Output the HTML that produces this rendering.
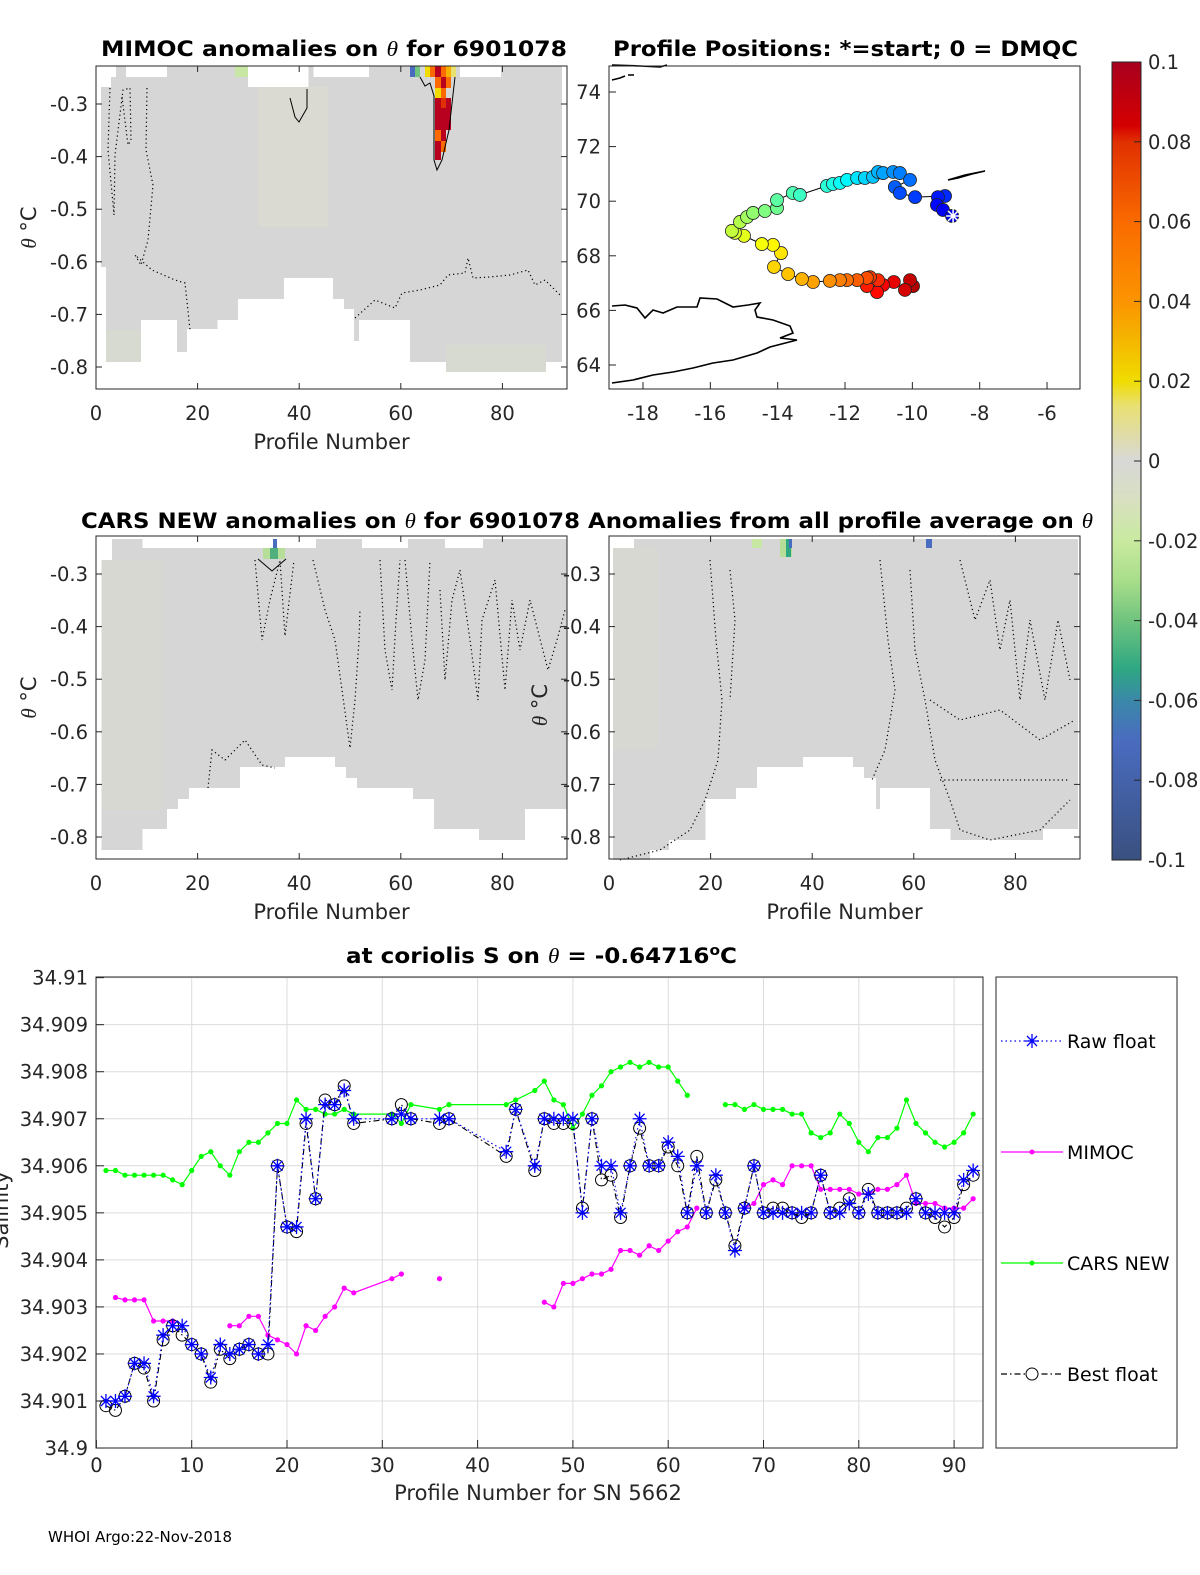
<!DOCTYPE html>
<html><head><meta charset="utf-8"><style>
html,body{margin:0;padding:0;background:#fff;width:1200px;height:1575px;overflow:hidden}
svg{display:block;font-family:"DejaVu Sans","Liberation Sans",sans-serif}
.tk{font-size:19.5px;fill:#262626}
.ttl{font-size:21px;font-weight:bold;fill:#000}
.lbl{font-size:21px;fill:#262626}
</style></head><body>
<svg id="fig" width="1200" height="1575" viewBox="0 0 1200 1575" xmlns="http://www.w3.org/2000/svg">
<defs>
<linearGradient id="cbg" x1="0" y1="0" x2="0" y2="1">
<stop offset="0" stop-color="#a8001f"/><stop offset="0.08" stop-color="#d40000"/><stop offset="0.1" stop-color="#e03000"/>
<stop offset="0.2" stop-color="#fa6a00"/><stop offset="0.3" stop-color="#fb9400"/><stop offset="0.34" stop-color="#f5b000"/>
<stop offset="0.4" stop-color="#f0dc00"/><stop offset="0.43" stop-color="#e8e070"/><stop offset="0.5" stop-color="#d8d8d8"/>
<stop offset="0.55" stop-color="#d8e0c0"/><stop offset="0.6" stop-color="#c9eaa0"/><stop offset="0.65" stop-color="#a8de8a"/>
<stop offset="0.7" stop-color="#70c47e"/><stop offset="0.76" stop-color="#2fa882"/><stop offset="0.8" stop-color="#3a88a8"/>
<stop offset="0.85" stop-color="#4a6cc0"/><stop offset="1" stop-color="#3a5080"/>
</linearGradient>
</defs>

<!-- Panel 1: MIMOC anomalies -->
<g>
<text class="ttl" x="101" y="56" textLength="466" lengthAdjust="spacingAndGlyphs">MIMOC anomalies on <tspan font-style="italic" font-weight="normal" font-family="Liberation Serif">θ</tspan>  for 6901078</text>
<path fill="#d6d6d6" d="M101,87 L111,87 L111,77 L116,77 L116,66 L126,66 L126,77 L167,77 L167,66 L248,66 L248,87 L308.5,87 L308.5,66 L313.5,66 L313.5,77 L369,77 L369,66 L460,66 L460,77 L501,77 L501,66 L562,66 L562,362 L520.5,362 L520.5,372 L446,372 L446,362 L410,362 L410,320 L359,320 L359,341 L354,341 L354,309 L344,309 L344,299 L333,299 L333,278 L284,278 L284,299 L238,299 L238,320 L217.5,320 L217.5,329 L187,329 L187,352 L177,352 L177,320 L141,320 L141,362 L106,362 L106,267 L101,267 Z"/>
<rect x="258" y="87" width="70" height="140" fill="#dadad2"/>
<rect x="106" y="330" width="35" height="32" fill="#d6dad0"/>
<rect x="446" y="345" width="100" height="27" fill="#d6dad0"/>
<rect x="235" y="66" width="13" height="11" fill="#c8e6a4"/>
<g>
<rect x="410" y="66" width="5" height="11" fill="#4a6cc0"/><rect x="415" y="66" width="5" height="11" fill="#70c47e"/>
<rect x="425" y="66" width="5" height="11" fill="#f0dc00"/><rect x="430" y="66" width="5" height="11" fill="#fa6a00"/>
<rect x="435" y="66" width="6" height="11" fill="#b8001f"/><rect x="441" y="66" width="5" height="11" fill="#fa6a00"/>
<rect x="446" y="66" width="5" height="11" fill="#f5b000"/><rect x="451" y="66" width="5" height="11" fill="#e8e070"/>
<rect x="435" y="77" width="6" height="11" fill="#fa6a00"/><rect x="441" y="77" width="5" height="11" fill="#b8001f"/><rect x="446" y="77" width="5" height="11" fill="#fa6a00"/>
<rect x="435" y="88" width="6" height="10" fill="#f0dc00"/><rect x="441" y="88" width="5" height="10" fill="#fa6a00"/>
<rect x="435" y="98" width="16" height="32" fill="#b8001f"/><rect x="441" y="98" width="5" height="10" fill="#e03000"/>
<rect x="435" y="130" width="6" height="11" fill="#fa6a00"/><rect x="441" y="130" width="5" height="11" fill="#b8001f"/>
<rect x="435" y="141" width="6" height="19" fill="#b8001f"/><rect x="441" y="141" width="5" height="11" fill="#fa6a00"/>
</g>
<path d="M420,77 L425,86 L430,83 L434,96 L434,160 L437,170 L442,160 L449,130 L455,77" fill="none" stroke="#000" stroke-width="1"/>
<path d="M290,98 L295,117 L299,122 L307,108 L307,89" fill="none" stroke="#000" stroke-width="1"/>
<g fill="none" stroke="#000" stroke-width="1.2" stroke-dasharray="1.2,3">
<path d="M110,88 L108,150 L114,215 L115,155 L123,90 L130,88 L131,140 L128,145 L122,97"/>
<path d="M147,88 L146,150 L153,185 L148,240 L141,265 L135,255 L152,270 L175,280 L185,283 L190,330"/>
<path d="M355,318 L375,300 L395,308 L402,293 L420,290 L440,285 L448,275 L465,273 L468,258 L473,278 L490,277 L510,275 L528,270 L535,285 L545,280 L560,295"/>
</g>
<rect x="96" y="66" width="471" height="323" fill="none" stroke="#262626" stroke-width="1"/>
</g>

<!-- Panel 2: map -->
<g>
<text class="ttl" x="613" y="56" textLength="465" lengthAdjust="spacingAndGlyphs">Profile Positions: *=start; 0 = DMQC</text>
<g id="mapCoast" fill="none" stroke="#000" stroke-width="1.6">
<path d="M612,306 L625,305 L637,308 L645,318 L653,310 L663,313 L677,307 L697,307 L700,298 L717,299 L733,307 L748,305 L760,303 L755,310 L757,317 L773,320 L790,326 L793,333 L780,338 L797,340 L770,347 L757,353 L733,360 L713,363 L693,368 L673,372 L653,375 L633,380 L612,383"/>
<path d="M612,65 L640,66 L660,67 L667,65 M612,80 L620,78 L625,76 M628,75 L634,75"/>
<path d="M948,180 L965,175 L985,171 L972,174 L958,178 Z"/>
</g>
<g id="mapTrack"></g>
<g id="mapAxes"></g>
<rect x="609" y="66" width="471" height="323" fill="none" stroke="#262626" stroke-width="1"/>
</g>

<!-- Panel 3 -->
<g>
<text class="ttl" x="81" y="528" textLength="499" lengthAdjust="spacingAndGlyphs">CARS NEW anomalies on <tspan font-style="italic" font-weight="normal" font-family="Liberation Serif">θ</tspan> for 6901078</text>
<path fill="#d6d6d6" d="M101.5,560 L112,560 L112,539 L142.5,539 L142.5,548 L316,548 L316,539 L362,539 L362,548 L408,548 L408,539 L445,539 L445,548 L483,548 L483,539 L567,539 L567,809 L525,809 L525,840 L479,840 L479,829 L434,829 L434,799 L413,799 L413,788 L357,788 L357,778 L346,778 L346,767 L335,767 L335,757 L285,757 L285,767 L240,767 L240,788 L189,788 L189,799 L178,799 L178,809 L167,809 L167,829 L142.5,829 L142.5,850 L101.5,850 Z"/>
<rect x="101.5" y="560" width="60" height="250" fill="#d6dcc8" opacity="0.35"/>
<rect x="263" y="548" width="22" height="11" fill="#b6de98"/><rect x="270" y="548" width="8" height="11" fill="#4fb07e"/>
<rect x="273" y="539" width="4" height="9" fill="#4a6cc0"/>
<path d="M258,559 L272,571 L286,559" fill="none" stroke="#000"/>
<g fill="none" stroke="#000" stroke-width="1.2" stroke-dasharray="1.2,3">
<path d="M255,560 L262,640 L270,600 L280,560 L285,636 L294,560"/>
<path d="M313,560 L325,610 L335,640 L342,690 L350,748 L355,700 L359,640 L360,610"/>
<path d="M380,560 L385,650 L392,690 L396,620 L400,560 M405,560 L412,640 L418,700 L425,660 L430,560"/>
<path d="M440,590 L445,680 L452,600 L460,570 L470,640 L478,700 L482,620 L495,580 L505,690 L512,600 L520,650 L530,600 L548,670 L557,640 L565,610"/>
<path d="M208,788 L212,750 L225,760 L245,740 L262,765 L275,768"/>
</g>
<text transform="translate(547,705) rotate(-90)" font-size="21" fill="#262626" text-anchor="middle"><tspan font-style="italic" font-family="Liberation Serif">θ</tspan> °C</text>
<rect x="96" y="536" width="471" height="323" fill="none" stroke="#262626" stroke-width="1"/>
</g>

<!-- Panel 4 -->
<g>
<text class="ttl" x="588" y="528" textLength="505" lengthAdjust="spacingAndGlyphs">Anomalies from all profile average on <tspan font-style="italic" font-weight="normal" font-family="Liberation Serif">θ</tspan></text>
<path fill="#d6d6d6" d="M613,548 L634,548 L634,539 L1078,539 L1078,829 L1043,829 L1043,840 L950.5,840 L950.5,829 L930,829 L930,788 L880,788 L880,809 L876,809 L876,778 L864,778 L864,767 L853,767 L853,757 L803,757 L803,767 L757,767 L757,788 L736,788 L736,799 L705.5,799 L705.5,840 L669,840 L669,850 L650,850 L650,860 L613,860 Z"/>
<rect x="613" y="548" width="45" height="200" fill="#d6dcc8" opacity="0.35"/>
<rect x="752" y="539" width="10" height="9" fill="#c8e6a4"/><rect x="780" y="539" width="12" height="18" fill="#b6de98"/>
<rect x="786" y="539" width="5" height="18" fill="#2fa882"/><rect x="789" y="539" width="3" height="9" fill="#4a6cc0"/>
<rect x="926" y="539" width="6" height="9" fill="#4a6cc0"/>
<g fill="none" stroke="#000" stroke-width="1.2" stroke-dasharray="1.2,3">
<path d="M710,560 L716,640 L722,700 L718,760 L705,800 L690,830 L660,850 L620,860"/>
<path d="M730,570 L735,620 L730,700"/>
<path d="M880,560 L888,640 L895,690 L885,750 L872,780"/>
<path d="M910,570 L915,650 L925,700 L935,760 L950,800 L960,830 L990,840 L1040,830 L1070,800"/>
<path d="M960,560 L975,620 L990,580 L1000,650 L1010,600 L1020,700 L1030,620 L1045,700 L1058,620 L1070,680"/>
<path d="M930,700 L960,720 L1000,710 L1040,740 L1075,720 M940,780 L1070,780"/>
</g>
<rect x="609" y="536" width="471" height="323" fill="none" stroke="#262626" stroke-width="1"/>
</g>

<g id="heatAxes"></g>

<!-- Colorbar -->
<g>
<rect x="1112" y="62" width="29" height="798" fill="url(#cbg)" stroke="#262626" stroke-width="1"/>
<g id="cbTicks"></g>
</g>

<!-- Bottom chart -->
<g>
<text class="ttl" x="346" y="963" textLength="391" lengthAdjust="spacingAndGlyphs">at coriolis S on <tspan font-style="italic" font-weight="normal" font-family="Liberation Serif">θ</tspan> = -0.64716<tspan font-size="14" dy="-8">o</tspan><tspan dy="8">C</tspan></text>
<rect x="96" y="977" width="887" height="471" fill="#fff"/>
<g id="grid"></g>
<g id="series"></g>
<rect x="96" y="977" width="887" height="471" fill="none" stroke="#262626" stroke-width="1"/>
<g id="bAxes"></g>
<text class="lbl" x="538" y="1500" text-anchor="middle">Profile Number for SN 5662</text>
<text class="lbl" transform="translate(8,1210) rotate(-90)" text-anchor="middle">Salinity</text>
</g>

<!-- Legend -->
<g>
<rect x="996" y="977" width="181" height="471" fill="#fff" stroke="#262626" stroke-width="1"/>
<g>
<line x1="1001" y1="1041" x2="1063" y2="1041" stroke="#0000ff" stroke-width="1.2" stroke-dasharray="1.5,3"/>
<path d="M1025,1041 L1039,1041 M1032,1034 L1032,1048 M1027,1036 L1037,1046 M1027,1046 L1037,1036" stroke="#0000ff" stroke-width="1.3"/>
<text x="1067" y="1048" font-size="19" fill="#000">Raw float</text></g>
<g>
<line x1="1001" y1="1152" x2="1063" y2="1152" stroke="#ff00ff" stroke-width="1.2"/><circle cx="1032" cy="1152" r="2.5" fill="#ff00ff"/>
<text x="1067" y="1159" font-size="19" fill="#000">MIMOC</text></g>
<g>
<line x1="1001" y1="1263" x2="1063" y2="1263" stroke="#00ff00" stroke-width="1.2"/><circle cx="1032" cy="1263" r="2.5" fill="#00ff00"/>
<text x="1067" y="1270" font-size="19" fill="#000">CARS NEW</text></g>
<g>
<line x1="1001" y1="1374" x2="1063" y2="1374" stroke="#000" stroke-width="1.2" stroke-dasharray="6,3,1.5,3"/><circle cx="1032" cy="1374" r="6" fill="#fff" stroke="#000"/>
<text x="1067" y="1381" font-size="19" fill="#000">Best float</text></g>
</g>

<text x="48" y="1542" font-size="15" fill="#000">WHOI Argo:22-Nov-2018</text>
</svg>
<script>
// ===== bottom chart data =====
const profiles = [1,2,3,4,5,6,7,8,9,10,11,12,13,14,15,16,17,18,19,20,21,22,23,24,25,26,27,31,32,33,36,37,43,44,46,47,48,49,50,51,52,53,54,55,56,57,58,59,60,61,62,63,64,65,66,67,68,69,70,71,72,73,74,75,76,77,78,79,80,81,82,83,84,85,86,87,88,89,90,91,92];
const rawFloat = [34.9010,34.9010,34.9011,34.9018,34.9018,34.9011,34.9024,34.9026,34.9026,34.9022,34.9020,34.9015,34.9022,34.9020,34.9021,34.9022,34.9020,34.9022,34.9060,34.9047,34.9047,34.9070,34.9053,34.9073,34.9073,34.9076,34.9070,34.9070,34.9071,34.9070,34.9070,34.9070,34.9063,34.9072,34.9060,34.9070,34.9070,34.9070,34.9070,34.9050,34.9070,34.9060,34.9060,34.9050,34.9060,34.9070,34.9060,34.9060,34.9065,34.9062,34.9050,34.9060,34.9050,34.9058,34.9050,34.9042,34.9051,34.9060,34.9050,34.9050,34.9050,34.9050,34.9050,34.9050,34.9058,34.9050,34.9050,34.9052,34.9050,34.9054,34.9050,34.9050,34.9050,34.9050,34.9053,34.9050,34.9050,34.9050,34.9050,34.9057,34.9059];
const bestFloat = [34.9009,34.9008,34.9011,34.9018,34.9017,34.9010,34.9023,34.9026,34.9024,34.9022,34.9020,34.9014,34.9021,34.9019,34.9021,34.9022,34.9020,34.9020,34.9060,34.9047,34.9046,34.9069,34.9053,34.9074,34.9073,34.9077,34.9069,34.9070,34.9073,34.9070,34.9069,34.9070,34.9062,34.9072,34.9059,34.9070,34.9069,34.9069,34.9069,34.9051,34.9070,34.9057,34.9058,34.9049,34.9060,34.9068,34.9060,34.9060,34.9064,34.9060,34.9050,34.9062,34.9050,34.9057,34.9050,34.9043,34.9051,34.9060,34.9050,34.9051,34.9051,34.9050,34.9049,34.9050,34.9058,34.9050,34.9051,34.9053,34.9050,34.9055,34.9050,34.9050,34.9050,34.9051,34.9053,34.9050,34.9049,34.9047,34.9049,34.9056,34.9058];
const carsNew = [34.9059,34.9059,34.9058,34.9058,34.9058,34.9058,34.9058,34.9057,34.9056,34.9059,34.9062,34.9063,34.9060,34.9058,34.9063,34.9065,34.9065,34.9067,34.9069,34.9069,34.9074,34.9072,34.9072,34.9071,34.9071,34.9072,34.9071,34.9071,34.9069,34.9073,34.9072,34.9073,34.9073,34.9074,34.9076,34.9078,34.9074,34.9073,34.9068,34.9071,34.9075,34.9077,34.9080,34.9081,34.9082,34.9081,34.9082,34.9081,34.9081,34.9078,34.9075,null,null,null,34.9073,34.9073,34.9072,34.9073,34.9072,34.9072,34.9072,34.9071,34.9071,34.9067,34.9066,34.9067,34.9071,34.9069,34.9065,34.9063,34.9066,34.9066,34.9068,34.9074,34.9069,34.9067,34.9065,34.9064,34.9065,34.9067,34.9071];
const mimoc = [null,34.9032,34.90315,34.90315,34.90315,34.9027,34.9027,34.9027,null,null,null,null,null,34.9026,34.9026,34.9028,34.9028,34.9024,34.9023,34.9022,34.9020,34.9026,34.9025,34.9028,34.9030,34.9034,34.9033,34.9036,34.9037,null,34.9036,null,null,null,null,34.9031,34.9030,34.9035,34.9035,34.9036,34.9037,34.9037,34.9038,34.9042,34.9042,34.9041,34.9043,34.9042,34.9044,34.9046,34.9047,34.9051,null,null,null,null,34.9051,34.9052,34.9056,34.9057,34.9056,34.9060,34.9060,34.9060,34.9055,34.9055,34.9055,34.9055,34.9054,34.9054,34.9055,34.9055,34.9056,34.9058,34.9052,34.9052,34.9052,34.9051,34.9051,34.9051,34.9053];
const xTicks = [0,10,20,30,40,50,60,70,80,90];
const yTicks = [34.9,34.901,34.902,34.903,34.904,34.905,34.906,34.907,34.908,34.909,34.91];
const yTickLabels = ["34.9","34.901","34.902","34.903","34.904","34.905","34.906","34.907","34.908","34.909","34.91"];

// ===== map data =====
const trackLon = [-8.82,-9.09,-9.27,-9.24,-9.03,-9.92,-10.37,-10.52,-10.07,-10.37,-10.57,-10.87,-11.02,-11.17,-11.41,-11.64,-11.94,-12.15,-12.36,-12.54,-13.34,-13.55,-14.02,-14.02,-14.38,-14.73,-14.91,-15.12,-15.36,-15.27,-15.00,-14.47,-14.14,-13.90,-14.11,-13.69,-13.28,-12.95,-12.45,-12.15,-11.94,-11.64,-11.35,-11.26,-11.02,-11.35,-11.05,-10.87,-10.55,-10.22,-10.07,-9.98];
const trackLat = [69.46,69.68,69.86,70.15,70.19,70.15,70.30,70.52,70.78,71.03,71.07,71.03,71.07,70.89,70.85,70.85,70.78,70.67,70.63,70.56,70.23,70.30,70.04,69.75,69.64,69.57,69.42,69.24,68.91,68.84,68.73,68.43,68.40,68.10,67.59,67.33,67.15,67.04,67.08,67.11,67.11,67.11,67.19,67.22,67.11,66.89,66.67,66.93,67.04,66.75,67.11,66.89];
const lonTicks = [-18,-16,-14,-12,-10,-8,-6];
const latTicks = [64,66,68,70,72,74];

// ===== heatmap panel axes =====
const thetaTicks = [-0.3,-0.4,-0.5,-0.6,-0.7,-0.8];
const profTicks = [0,20,40,60,80];
const cbTicks = [0.1,0.08,0.06,0.04,0.02,0,-0.02,-0.04,-0.06,-0.08,-0.1];

const NS = "http://www.w3.org/2000/svg";
function mk(tag, attrs, parent){const e=document.createElementNS(NS,tag);for(const k in attrs)e.setAttribute(k,attrs[k]);parent.appendChild(e);return e;}

const X = p => 96.4 + p*9.53;
const Y = v => 1401 - (v-34.901)*47040;
const grid = document.getElementById('grid'), bAxes = document.getElementById('bAxes'), ser = document.getElementById('series');
xTicks.forEach(t=>{
  const gl = mk('line',{x1:X(t),x2:X(t),y1:977,y2:1448,stroke:'#dcdcdc','stroke-width':1},grid);
  
  
  mk('line',{x1:X(t),x2:X(t),y1:1448,y2:1440,stroke:'#262626'},bAxes);
  const tx = mk('text',{x:X(t),y:1472,'text-anchor':'middle',class:'tk'},bAxes);
  
  
  tx.textContent = t;
});
yTicks.forEach((t,i)=>{
  const gl = mk('line',{x1:96,x2:983,y1:Y(t),y2:Y(t),stroke:'#dcdcdc','stroke-width':1},grid);
  
  
  mk('line',{x1:96,x2:104,y1:Y(t),y2:Y(t),stroke:'#262626'},bAxes);
  const tx = mk('text',{x:88,y:Y(t)+7,'text-anchor':'end',class:'tk'},bAxes);
  
  
  tx.textContent = yTickLabels[i];
});

function brokenPath(vals){
  let d='',pen=false;
  vals.forEach((v,i)=>{ if(v==null){pen=false;return;} d += (pen?'L':'M')+X(profiles[i]).toFixed(1)+','+Y(v).toFixed(1)+' '; pen=true; });
  return d;
}
function connectedPath(vals){
  return vals.map((v,i)=>(i?'L':'M')+X(profiles[i]).toFixed(1)+','+Y(v).toFixed(1)).join(' ');
}
const gP = mk('path',{d:brokenPath(carsNew),fill:'none',stroke:'#00ff00','stroke-width':1.2},ser);


carsNew.forEach((v,i)=>{ if(v==null)return;
  const c = mk('circle',{cx:X(profiles[i]),cy:Y(v),r:2.6,fill:'#00ff00'},ser);
  
  
});
const mP = mk('path',{d:brokenPath(mimoc),fill:'none',stroke:'#ff00ff','stroke-width':1.2},ser);


mimoc.forEach((v,i)=>{ if(v==null)return;
  const c = mk('circle',{cx:X(profiles[i]),cy:Y(v),r:2.6,fill:'#ff00ff'},ser);
  
  
});
const bP = mk('path',{d:connectedPath(bestFloat),fill:'none',stroke:'#000','stroke-width':1.1,'stroke-dasharray':'6,3,1.5,3'},ser);


bestFloat.forEach((v,i)=>{
  const c = mk('circle',{cx:X(profiles[i]),cy:Y(v),r:6,fill:'none',stroke:'#000','stroke-width':1},ser);
  
  
});
const rP = mk('path',{d:connectedPath(rawFloat),fill:'none',stroke:'#0000ff','stroke-width':1.1,'stroke-dasharray':'1.5,3'},ser);


rawFloat.forEach((v,i)=>{
  const x=X(profiles[i]), y=Y(v);
  const s = mk('path',{d:`M${x-7},${y} L${x+7},${y} M${x},${y-7} L${x},${y+7} M${x-5},${y-5} L${x+5},${y+5} M${x-5},${y+5} L${x+5},${y-5}`,stroke:'#0000ff','stroke-width':1.3,fill:'none'},ser);
  
  
});

// ===== map =====
const LX = lon => 643 + (lon+18)*33.67;
const LY = lat => 92 + (74-lat)*27.3;
function jet(t){
  const r=Math.min(1,Math.max(0,Math.min(4*t-1.5,-4*t+4.5)));
  const g=Math.min(1,Math.max(0,Math.min(4*t-0.5,-4*t+3.5)));
  const b=Math.min(1,Math.max(0,Math.min(4*t+0.5,-4*t+2.5)));
  return `rgb(${Math.round(r*255)},${Math.round(g*255)},${Math.round(b*255)})`;
}
const mt = document.getElementById('mapTrack');
const tl = mk('path',{d:trackLon.map((l,i)=>(i?'L':'M')+LX(l).toFixed(1)+','+LY(trackLat[i]).toFixed(1)).join(' '),fill:'none',stroke:'#000','stroke-width':1},mt);


for(let i=trackLon.length-1;i>=0;i--){
  const c = mk('circle',{cx:LX(trackLon[i]),cy:LY(trackLat[i]),r:6.5,fill:jet(0.1+0.85*i/(trackLon.length-1)),stroke:'#222','stroke-width':0.8},mt);
  
  
}
{
  const x=LX(trackLon[0])+1,y=LY(trackLat[0]);
  const s = mk('path',{d:`M${x-7},${y} L${x+7},${y} M${x},${y-7} L${x},${y+7} M${x-5},${y-5} L${x+5},${y+5} M${x-5},${y+5} L${x+5},${y-5}`,stroke:'#fff','stroke-width':1.5},mt);
  
  
}
const ma = document.getElementById('mapAxes');
lonTicks.forEach(t=>{
  mk('line',{x1:LX(t),x2:LX(t),y1:389,y2:382,stroke:'#262626'},ma);
  const tx = mk('text',{x:LX(t),y:420,'text-anchor':'middle',class:'tk'},ma);
  
  
  tx.textContent = t;
});
latTicks.forEach(t=>{
  mk('line',{x1:609,x2:616,y1:LY(t),y2:LY(t),stroke:'#262626'},ma);
  const tx = mk('text',{x:601,y:LY(t)+7,'text-anchor':'end',class:'tk'},ma);
  
  
  tx.textContent = t;
});

// ===== heatmap panel axes =====
const ha = document.getElementById('heatAxes');
const panels = [{x0:96,x1:567,y0:66,y1:389,lab:'left'},{map:true},{x0:96,x1:567,y0:536,y1:859,lab:'left'},{x0:609,x1:1080,y0:536,y1:859,lab:'inner'}];
panels.forEach(p=>{
  if(p.map) return;
  const TY = v => p.y0 + 38 + (-0.3 - v)*526;
  const PX = n => p.x0 + n*5.08;
  thetaTicks.forEach(t=>{
    mk('line',{x1:p.x0,x2:p.x0+6,y1:TY(t),y2:TY(t),stroke:'#262626'},ha);
    mk('line',{x1:p.x1,x2:p.x1-6,y1:TY(t),y2:TY(t),stroke:'#262626'},ha);
    const tx = mk('text',{x:p.x0-8,y:TY(t)+7,'text-anchor':'end',class:'tk'},ha);
    
    
    tx.textContent = t.toFixed(1);
  });
  profTicks.forEach(t=>{
    mk('line',{x1:PX(t),x2:PX(t),y1:p.y1,y2:p.y1-6,stroke:'#262626'},ha);
    mk('line',{x1:PX(t),x2:PX(t),y1:p.y0,y2:p.y0+6,stroke:'#262626'},ha);
    const tx = mk('text',{x:PX(t),y:p.y1+31,'text-anchor':'middle',class:'tk'},ha);
    
    
    tx.textContent = t;
  });
  const xl = mk('text',{x:(p.x0+p.x1)/2,y:p.y1+60,'text-anchor':'middle',class:'lbl'},ha);
  
  
  xl.textContent = 'Profile Number';
  if(p.lab==='left'){
    const yl = mk('text',{transform:`translate(36,${(p.y0+p.y1)/2}) rotate(-90)`,'text-anchor':'middle',class:'lbl'},ha);
    
    
    yl.innerHTML = '<tspan font-style="italic" font-family="Liberation Serif">θ</tspan> °C';
  }
});

const cb = document.getElementById('cbTicks');
cbTicks.forEach((t,i)=>{
  const y = 62 + i*79.8;
  mk('line',{x1:1134,x2:1141,y1:y,y2:y,stroke:'#262626'},cb);
  const tx = mk('text',{x:1148,y:y+7,class:'tk'},cb);
  
  
  tx.textContent = t===0?'0':String(t);
});
</script>
</body></html>
